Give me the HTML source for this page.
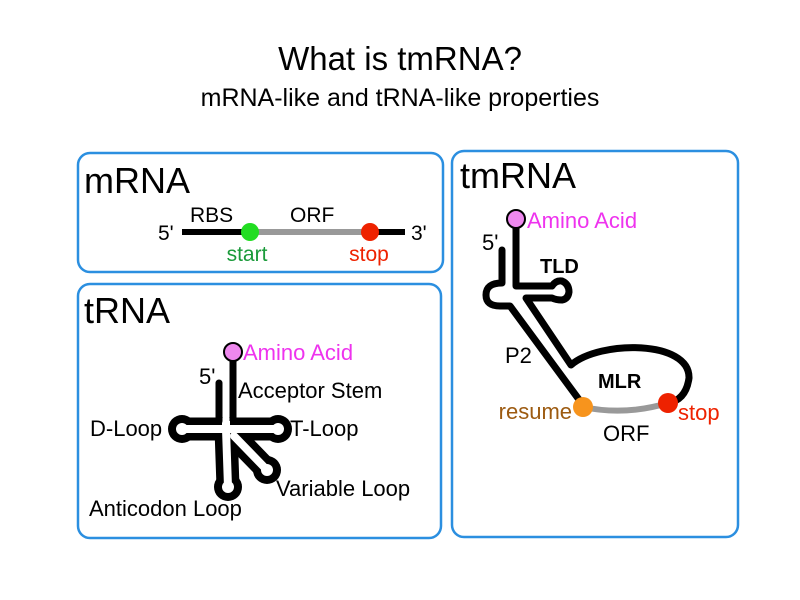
<!DOCTYPE html>
<html><head><meta charset="utf-8"><style>
html,body{margin:0;padding:0;background:#fff}
svg{display:block}
text{font-family:"Liberation Sans",sans-serif}
</style></head><body>
<svg width="800" height="600" viewBox="0 0 800 600" xmlns="http://www.w3.org/2000/svg">
<rect width="800" height="600" fill="#fff"/>
<text x="400" y="70" font-size="33" text-anchor="middle">What is tmRNA?</text>
<text x="400" y="106" font-size="25" text-anchor="middle">mRNA-like and tRNA-like properties</text>

<rect x="78" y="153" width="365" height="119" rx="12" fill="none" stroke="#2b8fe0" stroke-width="2.5"/>
<rect x="78" y="284" width="363" height="254" rx="12" fill="none" stroke="#2b8fe0" stroke-width="2.5"/>
<rect x="452" y="151" width="286" height="386" rx="12" fill="none" stroke="#2b8fe0" stroke-width="2.5"/>

<!-- mRNA -->
<text x="84" y="193" font-size="36">mRNA</text>
<line x1="182" y1="232" x2="250" y2="232" stroke="#000" stroke-width="6"/>
<line x1="250" y1="232" x2="370" y2="232" stroke="#999" stroke-width="6"/>
<line x1="370" y1="232" x2="405" y2="232" stroke="#000" stroke-width="6"/>
<circle cx="250" cy="232" r="9" fill="#22dd22"/>
<circle cx="370" cy="232" r="9" fill="#ee2200"/>
<g font-size="21">
<text x="158" y="240">5'</text>
<text x="190" y="222">RBS</text>
<text x="290" y="222">ORF</text>
<text x="411" y="240">3'</text>
<text x="247" y="261" text-anchor="middle" fill="#1a9a3a">start</text>
<text x="369" y="261" text-anchor="middle" fill="#ee2200">stop</text>
</g>

<!-- tRNA -->
<text x="84" y="323" font-size="36">tRNA</text>
<g stroke="#000" stroke-linecap="round">
<line x1="226" y1="429" x2="182" y2="429" stroke-width="23"/>
<line x1="226" y1="429" x2="278" y2="429" stroke-width="23"/>
<line x1="226" y1="429" x2="228" y2="487" stroke-width="23"/>
<line x1="230" y1="432" x2="267" y2="470" stroke-width="23"/>
</g>
<g fill="#000">
<circle cx="182" cy="429" r="14"/><circle cx="278" cy="429" r="14"/>
<circle cx="228" cy="487" r="14"/><circle cx="267" cy="470" r="14"/>
</g>
<g stroke="#fff" stroke-width="8" stroke-linecap="round">
<line x1="226" y1="429" x2="182" y2="429"/>
<line x1="226" y1="429" x2="278" y2="429"/>
<line x1="226" y1="429" x2="228" y2="487"/>
<line x1="234" y1="436" x2="267" y2="470"/>
<line x1="226" y1="420" x2="226" y2="429"/>
</g>
<g fill="#fff">
<circle cx="182" cy="429" r="6"/><circle cx="278" cy="429" r="6"/>
<circle cx="228" cy="487" r="6"/><circle cx="267" cy="470" r="6"/>
</g>
<line x1="219" y1="383" x2="219" y2="421" stroke="#000" stroke-width="7" stroke-linecap="round"/>
<line x1="233" y1="353" x2="233" y2="421" stroke="#000" stroke-width="7"/>
<circle cx="233" cy="352" r="9" fill="#ee88ee" stroke="#000" stroke-width="2"/>
<g font-size="22">
<text x="243" y="360" fill="#ee33ee">Amino Acid</text>
<text x="199" y="384">5'</text>
<text x="238" y="398">Acceptor Stem</text>
<text x="90" y="436">D-Loop</text>
<text x="290" y="436">T-Loop</text>
<text x="276" y="496">Variable Loop</text>
<text x="89" y="516">Anticodon Loop</text>
</g>

<!-- tmRNA -->
<text x="460" y="188" font-size="36">tmRNA</text>
<g fill="none" stroke="#000" stroke-width="7" stroke-linejoin="round">
<path d="M502,250 L502,283 Q486,283 486,295 Q486,306 500,306 L510,306 L583,405" stroke-linecap="round"/>
<path d="M516,219 L516,286 L552,286 Q556,280 562,281 Q569,284 569,292 Q568,299 562,300 Q556,300 552,298 L526,298 L571,365 C600,340 690,340 689,378 Q686,400 668,403"/>
</g>
<path d="M583,407 Q625,416 668,403" fill="none" stroke="#999" stroke-width="6"/>
<circle cx="583" cy="407" r="10" fill="#f7941d"/>
<circle cx="668" cy="403" r="10" fill="#ee2200"/>
<circle cx="516" cy="219" r="9" fill="#ee88ee" stroke="#000" stroke-width="2"/>
<g font-size="22">
<text x="527" y="228" fill="#ee33ee">Amino Acid</text>
<text x="482" y="250">5'</text>
<text x="540" y="273" font-weight="bold" font-size="20">TLD</text>
<text x="505" y="363">P2</text>
<text x="598" y="388" font-weight="bold" font-size="20">MLR</text>
<text x="572" y="419" text-anchor="end" fill="#9c5a10">resume</text>
<text x="678" y="420" fill="#ee2200">stop</text>
<text x="603" y="441">ORF</text>
</g>
</svg>
</body></html>
